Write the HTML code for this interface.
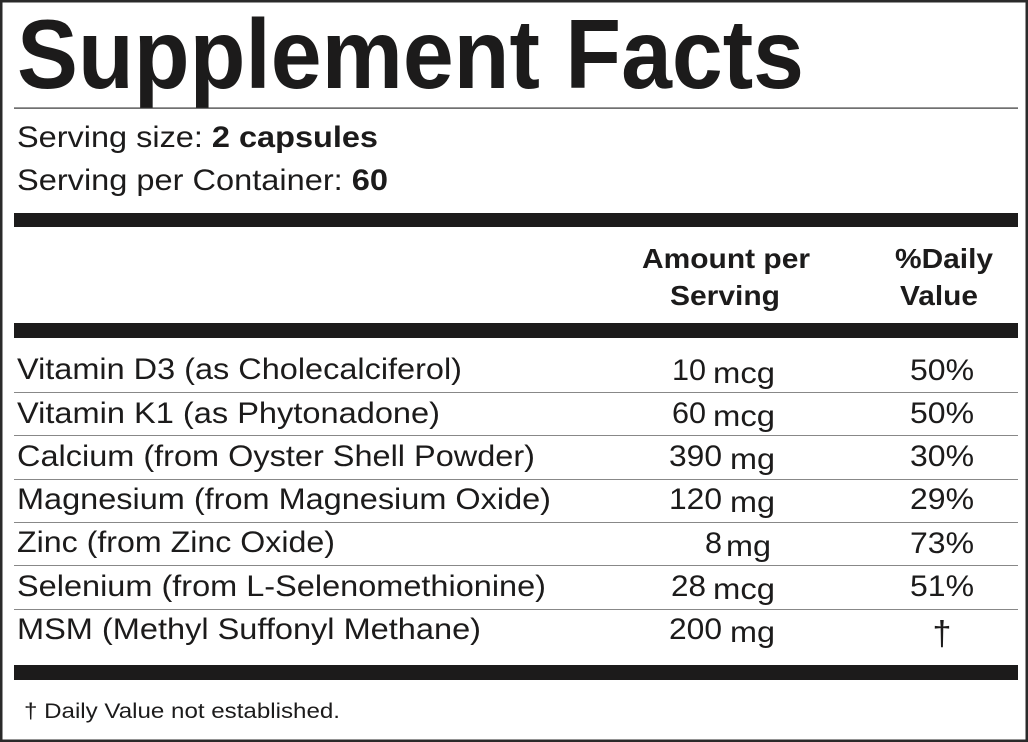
<!DOCTYPE html>
<html><head><meta charset="utf-8"><style>
html,body{margin:0;padding:0;background:#fff}
svg{display:block}
text{font-family:"Liberation Sans",Arial,sans-serif;fill:#1c1b1b}
.b{font-weight:bold}
</style></head><body>
<svg width="1028" height="742" viewBox="0 0 1028 742" xmlns="http://www.w3.org/2000/svg">
<rect x="1" y="1" width="1026" height="740" fill="#fff" stroke="#2a2a2a" stroke-width="3"/>
<text x="17" y="88" class="b" font-size="98" textLength="787" lengthAdjust="spacingAndGlyphs">Supplement Facts</text>
<rect x="14" y="107.5" width="1004" height="1.2" fill="#333"/>
<text x="17" y="147" font-size="30" textLength="361" lengthAdjust="spacingAndGlyphs">Serving size: <tspan class="b">2 capsules</tspan></text>
<text x="17" y="190" font-size="30" textLength="371" lengthAdjust="spacingAndGlyphs">Serving per Container: <tspan class="b">60</tspan></text>
<rect x="14" y="213" width="1004" height="14" fill="#1c1b1b"/>
<text x="642" y="268" class="b" font-size="28" textLength="168" lengthAdjust="spacingAndGlyphs">Amount per</text>
<text x="670" y="305" class="b" font-size="28" textLength="110" lengthAdjust="spacingAndGlyphs">Serving</text>
<text x="895" y="268" class="b" font-size="28" textLength="98" lengthAdjust="spacingAndGlyphs">%Daily</text>
<text x="900" y="305" class="b" font-size="28" textLength="78" lengthAdjust="spacingAndGlyphs">Value</text>
<rect x="14" y="323" width="1004" height="15" fill="#1c1b1b"/>
<g fill="#888">
<rect x="14" y="392" width="1004" height="1"/>
<rect x="14" y="435" width="1004" height="1"/>
<rect x="14" y="479" width="1004" height="1"/>
<rect x="14" y="522" width="1004" height="1"/>
<rect x="14" y="565" width="1004" height="1"/>
<rect x="14" y="609" width="1004" height="1"/>
</g>
<g font-size="30">
<text x="17" y="379" textLength="445" lengthAdjust="spacingAndGlyphs">Vitamin D3 (as Cholecalciferol)</text>
<text x="17" y="423" textLength="423" lengthAdjust="spacingAndGlyphs">Vitamin K1 (as Phytonadone)</text>
<text x="17" y="466" textLength="518" lengthAdjust="spacingAndGlyphs">Calcium (from Oyster Shell Powder)</text>
<text x="17" y="509" textLength="534" lengthAdjust="spacingAndGlyphs">Magnesium (from Magnesium Oxide)</text>
<text x="17" y="552" textLength="318" lengthAdjust="spacingAndGlyphs">Zinc (from Zinc Oxide)</text>
<text x="17" y="596" textLength="529" lengthAdjust="spacingAndGlyphs">Selenium (from L-Selenomethionine)</text>
<text x="17" y="639" textLength="464" lengthAdjust="spacingAndGlyphs">MSM (Methyl Suffonyl Methane)</text>
</g>
<g font-size="30">
<text x="672" y="380" textLength="34" lengthAdjust="spacingAndGlyphs">10</text>
<text x="672" y="423" textLength="34" lengthAdjust="spacingAndGlyphs">60</text>
<text x="669" y="466" textLength="53" lengthAdjust="spacingAndGlyphs">390</text>
<text x="669" y="509" textLength="53" lengthAdjust="spacingAndGlyphs">120</text>
<text x="705" y="553" textLength="17" lengthAdjust="spacingAndGlyphs">8</text>
<text x="671" y="596" textLength="35" lengthAdjust="spacingAndGlyphs">28</text>
<text x="669" y="639" textLength="53" lengthAdjust="spacingAndGlyphs">200</text>
<text x="713" y="383" textLength="62" lengthAdjust="spacingAndGlyphs">mcg</text>
<text x="713" y="426" textLength="62" lengthAdjust="spacingAndGlyphs">mcg</text>
<text x="730" y="469" textLength="45" lengthAdjust="spacingAndGlyphs">mg</text>
<text x="730" y="512" textLength="45" lengthAdjust="spacingAndGlyphs">mg</text>
<text x="726" y="556" textLength="45" lengthAdjust="spacingAndGlyphs">mg</text>
<text x="713" y="599" textLength="62" lengthAdjust="spacingAndGlyphs">mcg</text>
<text x="730" y="642" textLength="45" lengthAdjust="spacingAndGlyphs">mg</text>
</g>
<g font-size="30">
<text x="910" y="380" textLength="64" lengthAdjust="spacingAndGlyphs">50%</text>
<text x="910" y="423" textLength="64" lengthAdjust="spacingAndGlyphs">50%</text>
<text x="910" y="466" textLength="64" lengthAdjust="spacingAndGlyphs">30%</text>
<text x="910" y="509" textLength="64" lengthAdjust="spacingAndGlyphs">29%</text>
<text x="910" y="553" textLength="64" lengthAdjust="spacingAndGlyphs">73%</text>
<text x="910" y="596" textLength="64" lengthAdjust="spacingAndGlyphs">51%</text>
<text x="942" y="645" text-anchor="middle" font-size="34">†</text>
</g>
<rect x="14" y="665" width="1004" height="15" fill="#1c1b1b"/>
<text x="24" y="718" font-size="21" textLength="316" lengthAdjust="spacingAndGlyphs">† Daily Value not established.</text>
</svg>
</body></html>
